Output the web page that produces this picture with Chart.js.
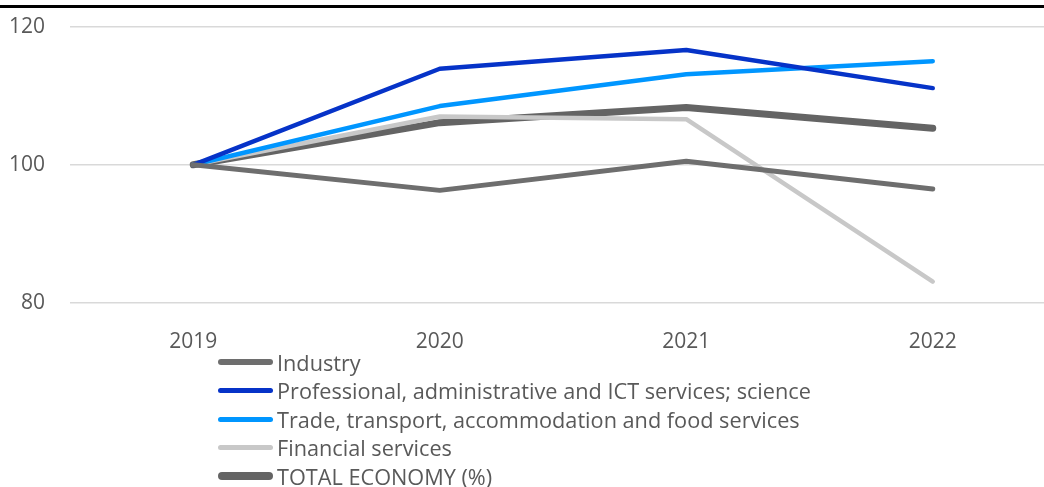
<!DOCTYPE html>
<html>
<head>
<meta charset="utf-8">
<script src="https://cdn.jsdelivr.net/npm/chart.js@4.4.1/dist/chart.umd.min.js"></script>
<style>
  body { margin: 0; background: #fff; width: 1044px; height: 487px; overflow: hidden; position: relative; font-family: "Open Sans", sans-serif; }
  .rule { position: absolute; left: 0; top: 5px; width: 1044px; height: 3px; background: #000; z-index: 1; }
  .wrap { position: absolute; left: 0; top: -11px; width: 1056px; height: 371px; }
  #legend { position: absolute; left: 218px; top: 348px; margin: 0; padding: 0; list-style: none; }
  #legend li { height: 28.5px; display: flex; align-items: center; font-size: 21.7px; color: #595959; white-space: nowrap; }
  #legend .swatch { display: inline-block; width: 55px; margin-right: 4px; border-radius: 4px; }
</style>
</head>
<body>
<div class="rule"></div>
<div class="wrap"><canvas id="chart"></canvas></div>
<ul id="legend"></ul>
<script>
// Index values, 2019 = 100
const years = ['2019', '2020', '2021', '2022'];
const industry = [100, 96.3, 100.5, 96.5];
const professional = [100, 113.9, 116.6, 111.1];
const trade = [100, 108.5, 113.1, 115.0];
const financial = [100, 107.0, 106.6, 83.1];
const totalEconomy = [100, 106.1, 108.3, 105.3];
const yTicks = [80, 100, 120];

const series = [
  { label: 'Industry', data: industry, color: '#6e6e6e', width: 5 },
  { label: 'Professional, administrative and ICT services; science', data: professional, color: '#0633c8', width: 4.5 },
  { label: 'Trade, transport, accommodation and food services', data: trade, color: '#0096ff', width: 4.5 },
  { label: 'Financial services', data: financial, color: '#c8c8c8', width: 4.5 },
  { label: 'TOTAL ECONOMY (%)', data: totalEconomy, color: '#646464', width: 7 }
];

const tickFont = { family: '"Open Sans", sans-serif', size: 21 };

const chart = new Chart(document.getElementById('chart'), {
  type: 'line',
  data: {
    labels: years,
    datasets: series.map(s => ({
      label: s.label,
      data: s.data,
      borderColor: s.color,
      backgroundColor: s.color,
      borderWidth: s.width,
      borderCapStyle: 'round',
      borderJoinStyle: 'round',
      pointRadius: 0,
      tension: 0
    }))
  },
  options: {
    responsive: true,
    maintainAspectRatio: false,
    animation: false,
    layout: { padding: { top: 14, right: 0, left: 0, bottom: 0 } },
    plugins: { legend: { display: false }, tooltip: { enabled: false } },
    scales: {
      x: {
        offset: true,
        grid: { display: false },
        border: { display: false },
        ticks: { color: '#595959', font: tickFont, padding: 18 },
        afterFit: (scale) => { scale.height = 57; }
      },
      y: {
        min: 80,
        max: 120,
        afterBuildTicks: (scale) => { scale.ticks = yTicks.map(v => ({ value: v })); },
        grid: { color: '#d9d9d9', lineWidth: 1.5, drawTicks: false },
        border: { display: false },
        ticks: { color: '#595959', font: tickFont, padding: 25 },
        afterFit: (scale) => { scale.width = 70; }
      }
    }
  }
});

// Vertical legend below the plot
const legend = document.getElementById('legend');
series.forEach(s => {
  const li = document.createElement('li');
  const sw = document.createElement('span');
  sw.className = 'swatch';
  sw.style.background = s.color;
  sw.style.height = Math.round(s.width + 0.5) + 'px';
  li.appendChild(sw);
  li.appendChild(document.createTextNode(s.label));
  legend.appendChild(li);
});
</script>
</body>
</html>
